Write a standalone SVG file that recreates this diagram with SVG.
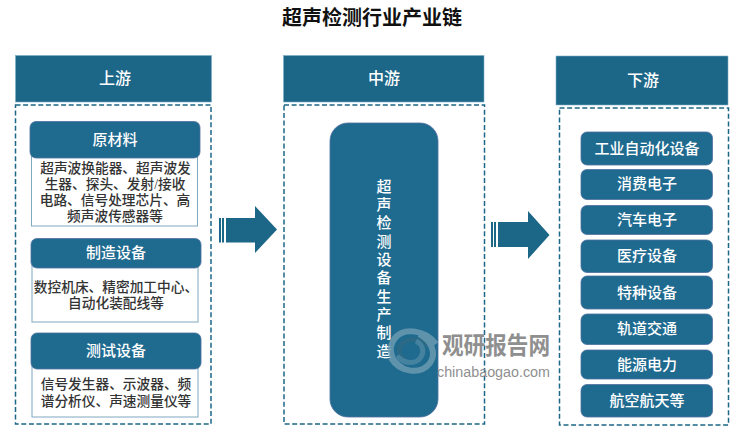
<svg xmlns="http://www.w3.org/2000/svg" width="750" height="437" viewBox="0 0 750 437">
<style>
text{font-family:"Liberation Serif","Noto Sans CJK SC",serif;text-anchor:middle;dominant-baseline:central}
.hd{fill:#1c6688;stroke:#7fb0c6;stroke-width:.6}
.dash{fill:#fff;stroke:#1c6688;stroke-width:1.5;stroke-dasharray:5 2.6}
.cat{fill:#1f6b90;stroke:#4f6fa0;stroke-width:.8}
.desc{fill:#fff;stroke:#7fa8bf;stroke-width:1}
.ar{fill:#1c6688}
.w16{fill:#fff;font-size:16px;font-weight:500}
.w15{fill:#fff;font-size:15px;font-weight:500}
.d{fill:#333;font-size:13.7px;font-weight:500}
</style>
<rect width="750" height="437" fill="#fff"/>
<text id="title" x="372" y="18" font-size="20" font-weight="700" fill="#111">超声检测行业产业链</text>

<g id="upstream">
<rect class="dash" x="15.500" y="105" width="195.500" height="319"/>
<rect class="hd" x="15.500" y="55.500" width="196" height="46.500"/>
<text class="w16" x="115" y="78">上游</text>
</g>
<g id="raw">
<rect class="desc" x="31.500" y="155" width="166" height="71"/>
<rect class="cat" x="30" y="121.500" width="170" height="36.500" rx="6"/>
<text class="w15" x="115" y="140">原材料</text>
<text class="d" x="115.500" y="168">超声波换能器、超声波发</text>
<text class="d" x="115" y="184">生器、探头、发射/接收</text>
<text class="d" x="115" y="200">电路、信号处理芯片、高</text>
<text class="d" x="115" y="216">频声波传感器等</text>
</g>
<g id="mfg">
<rect class="desc" x="32" y="265" width="166" height="57"/>
<rect class="cat" x="31" y="238.500" width="170" height="29.500" rx="6"/>
<text class="w15" x="116" y="253">制造设备</text>
<text class="d" x="116" y="287">数控机床、精密加工中心、</text>
<text class="d" x="116" y="303">自动化装配线等</text>
</g>
<g id="test">
<rect class="desc" x="32" y="366" width="166" height="51"/>
<rect class="cat" x="31" y="333" width="170" height="36" rx="6"/>
<text class="w15" x="116" y="351">测试设备</text>
<text class="d" x="116" y="384">信号发生器、示波器、频</text>
<text class="d" x="116" y="401">谱分析仪、声速测量仪等</text>
</g>

<g id="midstream">
<rect class="dash" x="284" y="105" width="200.500" height="319"/>
<rect class="hd" x="283.500" y="55.500" width="200.500" height="46.500"/>
<text class="w16" x="384" y="78">中游</text>
</g>
<g id="mid-core">
<rect class="cat" x="330" y="123" width="108" height="294" rx="18"/>
<text class="w15"><tspan x="384" y="186.700">超</tspan><tspan x="384" y="205">声</tspan><tspan x="384" y="223.300">检</tspan><tspan x="384" y="241.600">测</tspan><tspan x="384" y="259.900">设</tspan><tspan x="384" y="278.200">备</tspan><tspan x="384" y="296.500">生</tspan><tspan x="384" y="314.800">产</tspan><tspan x="384" y="333.100">制</tspan><tspan x="384" y="351.700">造</tspan></text>
</g>

<g id="downstream">
<rect class="dash" x="559.500" y="108" width="169" height="317"/>
<rect class="hd" x="556" y="56" width="172" height="49"/>
<text class="w16" x="643" y="80">下游</text>
</g>
<g id="d1"><rect class="cat" x="581" y="132" width="131.500" height="33" rx="6"/><text class="w15" x="647" y="148.500">工业自动化设备</text></g>
<g id="d2"><rect class="cat" x="581" y="169.500" width="131.500" height="30" rx="6"/><text class="w15" x="647" y="184">消费电子</text></g>
<g id="d3"><rect class="cat" x="581" y="205.500" width="131.500" height="29" rx="6"/><text class="w15" x="647" y="220">汽车电子</text></g>
<g id="d4"><rect class="cat" x="581" y="240" width="131.500" height="32.500" rx="6"/><text class="w15" x="647" y="256">医疗设备</text></g>
<g id="d5"><rect class="cat" x="581" y="276" width="131.500" height="33" rx="6"/><text class="w15" x="647" y="292.500">特种设备</text></g>
<g id="d6"><rect class="cat" x="581" y="314" width="131.500" height="30.500" rx="6"/><text class="w15" x="647" y="329">轨道交通</text></g>
<g id="d7"><rect class="cat" x="581" y="350" width="131.500" height="29" rx="6"/><text class="w15" x="647" y="364.500">能源电力</text></g>
<g id="d8"><rect class="cat" x="581" y="384.500" width="131.500" height="32.500" rx="6"/><text class="w15" x="647" y="401">航空航天等</text></g>

<g id="connectors">
<g class="ar">
<rect x="219" y="218" width="2" height="24.500"/><rect x="222" y="218" width="2" height="24.500"/>
<polygon points="226,218 255,218 255,206 277,229.500 255,253 255,242.500 226,242.500"/>
<rect x="491" y="222" width="2" height="25"/><rect x="494" y="222" width="2" height="25"/>
<polygon points="498,222 528,222 528,211 549.500,235 528,259 528,247 498,247"/>
</g>
</g>

<g id="watermark">
<g fill="none" opacity=".8">
<path d="M436 344C426 330 404 327 395 338C387 348 391 362 403 368" stroke="#6f9db3" stroke-width="6"/>
<path d="M428 346C419 337 406 338 401 345C397 351 400 358 406 361" stroke="#2f6a85" stroke-width="5"/>
<path d="M391 358C400 373 421 375 430 363C437 353 431 340 419 334" stroke="#6f9db3" stroke-width="6"/>
<path d="M397 356C405 365 417 364 421 357C425 351 422 344 416 341" stroke="#4f88a3" stroke-width="5"/>
</g>
<text transform="translate(496 344) scale(.9 1)" font-size="24" font-weight="700" fill="#8f8f8f" style="font-family:'Noto Sans CJK SC',sans-serif">观研报告网</text>
<text x="493.500" y="371" font-size="15.500" fill="#8f8f8f" textLength="113" lengthAdjust="spacingAndGlyphs" style="font-family:'Liberation Sans',sans-serif">chinabaogao.com</text>
</g>
</svg>
